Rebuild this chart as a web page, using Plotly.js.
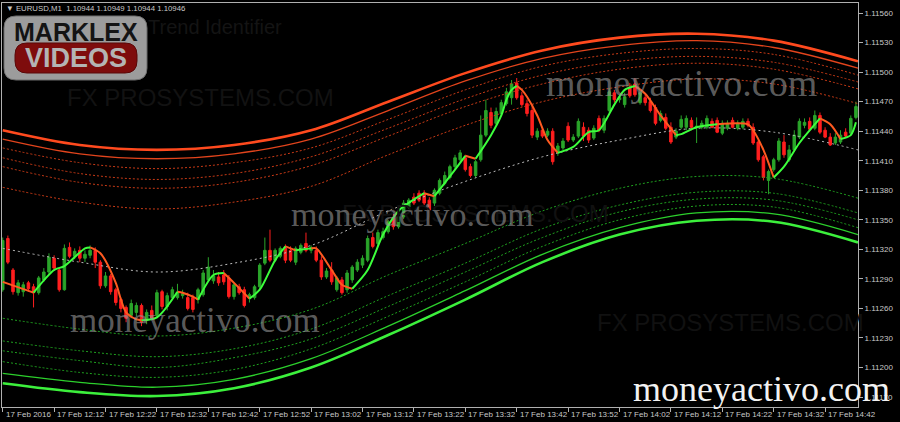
<!DOCTYPE html>
<html><head><meta charset="utf-8">
<script src="https://cdn.plot.ly/plotly-3.0.1.min.js"></script>
<style>html,body{margin:0;padding:0;background:#000;}#chart{width:900px;height:422px;}</style>
</head><body><div id="chart"></div>
<script>
// ---------- DATA (EURUSD M1, 17 Feb 2016, minutes after 12:02) ----------
const candleMinute = Array.from({length:167}, (_, i) => i);
const openPrice = [
1.11279,1.11331,1.11299,1.11276,1.11277,1.11286,1.11282,1.11276,1.11289,1.11297,
1.11311,1.11299,1.11279,1.11322,1.11313,1.11319,1.11311,1.11314,1.11319,1.11307,
1.11283,1.11293,1.11279,1.11269,1.11261,1.11253,1.11256,1.11263,1.11248,1.11258,
1.11253,1.11277,1.11262,1.11271,1.11271,1.11273,1.11271,1.11271,1.11269,1.11274,
1.11289,1.11288,1.11292,1.11294,1.11291,1.11272,1.11282,1.11279,1.11271,1.11271,
1.11282,1.11306,1.11319,1.11309,1.11313,1.11321,1.11319,1.11307,1.11317,1.11326,
1.11319,1.11319,1.11309,1.11292,1.11299,1.11279,1.11289,1.11279,1.11289,1.11299,
1.11304,1.11309,1.11332,1.11326,1.11332,1.11338,1.11352,1.11343,1.11353,1.11363,
1.11373,1.11377,1.11377,1.11370,1.11367,1.11377,1.11387,1.11393,1.11404,1.11411,
1.11413,1.11404,1.11395,1.11411,1.11436,1.11459,1.11448,1.11458,1.11468,1.11474,
1.11489,1.11476,1.11468,1.11461,1.11434,1.11441,1.11436,1.11440,1.11418,1.11423,
1.11445,1.11431,1.11435,1.11444,1.11441,1.11433,1.11453,1.11441,1.11461,1.11479,
1.11472,1.11467,1.11484,1.11488,1.11469,1.11474,1.11470,1.11464,1.11451,1.11454,
1.11444,1.11434,1.11444,1.11444,1.11451,1.11444,1.11444,1.11444,1.11450,1.11451,
1.11438,1.11443,1.11451,1.11443,1.11444,1.11450,1.11444,1.11429,1.11414,1.11390,
1.11401,1.11411,1.11429,1.11411,1.11421,1.11434,1.11446,1.11450,1.11443,1.11456,
1.11441,1.11434,1.11428,1.11429,1.11439,1.11438,1.11454];
const highPrice = [
1.11332,1.11334,1.11301,1.11289,1.11287,1.11288,1.11285,1.11293,1.11301,1.11316,
1.11314,1.11301,1.11325,1.11327,1.11321,1.11323,1.11319,1.11324,1.11322,1.11309,
1.11297,1.11295,1.11281,1.11271,1.11263,1.11269,1.11266,1.11265,1.11259,1.11263,
1.11279,1.11279,1.11276,1.11282,1.11285,1.11279,1.11276,1.11274,1.11281,1.11299,
1.11312,1.11299,1.11297,1.11299,1.11294,1.11286,1.11285,1.11282,1.11276,1.11284,
1.11306,1.11332,1.11340,1.11321,1.11323,1.11325,1.11323,1.11323,1.11326,1.11337,
1.11324,1.11323,1.11313,1.11301,1.11307,1.11293,1.11292,1.11299,1.11304,1.11310,
1.11314,1.11334,1.11337,1.11340,1.11342,1.11350,1.11356,1.11355,1.11370,1.11372,
1.11377,1.11380,1.11380,1.11373,1.11382,1.11392,1.11399,1.11406,1.11416,1.11421,
1.11416,1.11407,1.11411,1.11456,1.11472,1.11464,1.11464,1.11472,1.11484,1.11492,
1.11494,1.11480,1.11472,1.11466,1.11443,1.11444,1.11443,1.11443,1.11428,1.11433,
1.11449,1.11437,1.11453,1.11449,1.11444,1.11446,1.11456,1.11456,1.11484,1.11482,
1.11477,1.11479,1.11489,1.11494,1.11482,1.11477,1.11474,1.11467,1.11461,1.11458,
1.11449,1.11443,1.11456,1.11456,1.11454,1.11454,1.11451,1.11456,1.11453,1.11454,
1.11451,1.11451,1.11454,1.11451,1.11453,1.11453,1.11448,1.11431,1.11416,1.11401,
1.11413,1.11433,1.11436,1.11426,1.11441,1.11453,1.11453,1.11454,1.11461,1.11459,
1.11444,1.11438,1.11438,1.11441,1.11443,1.11456,1.11470];
const lowPrice = [
1.11277,1.11305,1.11274,1.11273,1.11272,1.11277,1.11261,1.11274,1.11287,1.11295,
1.11298,1.11277,1.11278,1.11311,1.11310,1.11307,1.11307,1.11311,1.11301,1.11280,
1.11281,1.11274,1.11263,1.11256,1.11246,1.11250,1.11252,1.11242,1.11244,1.11248,
1.11250,1.11259,1.11258,1.11269,1.11269,1.11270,1.11258,1.11256,1.11265,1.11272,
1.11287,1.11285,1.11283,1.11284,1.11270,1.11269,1.11274,1.11261,1.11266,1.11269,
1.11280,1.11304,1.11307,1.11307,1.11311,1.11306,1.11307,1.11304,1.11315,1.11317,
1.11316,1.11307,1.11289,1.11290,1.11284,1.11277,1.11274,1.11276,1.11286,1.11297,
1.11301,1.11307,1.11321,1.11324,1.11330,1.11336,1.11340,1.11341,1.11351,1.11361,
1.11365,1.11368,1.11365,1.11357,1.11364,1.11375,1.11385,1.11391,1.11401,1.11409,
1.11399,1.11393,1.11393,1.11409,1.11434,1.11443,1.11446,1.11456,1.11466,1.11467,
1.11472,1.11465,1.11455,1.11433,1.11431,1.11433,1.11434,1.11406,1.11415,1.11421,
1.11429,1.11429,1.11433,1.11430,1.11428,1.11431,1.11439,1.11438,1.11459,1.11469,
1.11469,1.11464,1.11474,1.11475,1.11467,1.11466,1.11459,1.11446,1.11449,1.11441,
1.11427,1.11432,1.11442,1.11441,1.11441,1.11428,1.11442,1.11442,1.11443,1.11438,
1.11436,1.11441,1.11443,1.11441,1.11442,1.11444,1.11426,1.11409,1.11390,1.11376,
1.11399,1.11409,1.11413,1.11409,1.11419,1.11432,1.11443,1.11440,1.11441,1.11437,
1.11433,1.11425,1.11426,1.11427,1.11433,1.11436,1.11452];
const closePrice = [
1.11329,1.11307,1.11277,1.11286,1.11284,1.11280,1.11276,1.11291,1.11297,1.11312,
1.11301,1.11279,1.11321,1.11313,1.11318,1.11311,1.11315,1.11319,1.11307,1.11283,
1.11293,1.11277,1.11266,1.11260,1.11250,1.11265,1.11263,1.11246,1.11256,1.11250,
1.11276,1.11262,1.11273,1.11279,1.11276,1.11275,1.11260,1.11259,1.11279,1.11296,
1.11302,1.11293,1.11286,1.11287,1.11272,1.11284,1.11276,1.11263,1.11274,1.11282,
1.11304,1.11319,1.11309,1.11319,1.11321,1.11309,1.11309,1.11321,1.11324,1.11319,
1.11322,1.11309,1.11292,1.11298,1.11287,1.11291,1.11276,1.11296,1.11302,1.11307,
1.11311,1.11331,1.11323,1.11337,1.11338,1.11348,1.11343,1.11353,1.11367,1.11370,
1.11367,1.11370,1.11367,1.11360,1.11380,1.11390,1.11395,1.11404,1.11413,1.11418,
1.11401,1.11395,1.11409,1.11436,1.11461,1.11446,1.11460,1.11469,1.11480,1.11488,
1.11474,1.11467,1.11458,1.11436,1.11440,1.11435,1.11440,1.11409,1.11425,1.11430,
1.11431,1.11434,1.11450,1.11435,1.11431,1.11443,1.11441,1.11453,1.11480,1.11472,
1.11474,1.11475,1.11476,1.11477,1.11479,1.11469,1.11461,1.11448,1.11458,1.11443,
1.11429,1.11440,1.11452,1.11453,1.11444,1.11445,1.11448,1.11453,1.11444,1.11439,
1.11448,1.11448,1.11444,1.11448,1.11450,1.11446,1.11428,1.11411,1.11393,1.11399,
1.11411,1.11430,1.11416,1.11421,1.11436,1.11450,1.11449,1.11442,1.11456,1.11439,
1.11434,1.11426,1.11434,1.11436,1.11435,1.11453,1.11465];

// smoothed trend line (read at its turning points / bends)
const trendMinute = [0,6,10,12,16,17,19,22,23,24,26,27,30,34,35,37,38,41,43,45,48,50,53,55,57,60,61,64,66,68,71,74,77,82,84,88,90,92,95,97,98,99,100,101,102,104,106,108,111,114,116,119,121,123,125,128,131,132,135,139,145,146,148,150,152,155,159,161,163,165,166];
const trendValue = [1.11287,1.11276,1.11299,1.11303,1.11321,1.11322,1.11316,1.11286,1.11269,1.11256,1.11249,1.11248,1.11251,1.11277,1.11276,1.11272,1.11269,1.11294,1.11296,1.11286,1.11270,1.11279,1.11309,1.11323,1.11319,1.11321,1.11321,1.11299,1.11284,1.11280,1.11299,1.11335,1.11359,1.11377,1.11374,1.11401,1.11415,1.11412,1.11436,1.11456,1.11472,1.11482,1.11486,1.11482,1.11475,1.11456,1.11431,1.11418,1.11424,1.11439,1.11441,1.11467,1.11482,1.11486,1.11478,1.11456,1.11436,1.11437,1.11444,1.11447,1.11447,1.11441,1.11421,1.11393,1.11404,1.11428,1.11453,1.11447,1.11432,1.11436,1.11449];

// channel lines (sampled along the chart)
const bandMinute = [0,15,30,45,60,75,90,105,120,135,150,166.4];
const upperOuter = [1.11441,1.11426,1.11421,1.11426,1.11441,1.11470,1.11499,1.11522,1.11535,1.11539,1.11532,1.11511];
const upperInner = [1.11432,1.11417,1.11412,1.11417,1.11432,1.11461,1.11491,1.11514,1.11527,1.11532,1.11525,1.11504];
const upperDot1  = [1.11423,1.11408,1.11402,1.11408,1.11423,1.11452,1.11482,1.11506,1.11519,1.11524,1.11518,1.11497];
const upperDot2  = [1.11413,1.11397,1.11391,1.11397,1.11414,1.11443,1.11473,1.11497,1.11511,1.11516,1.11510,1.11490];
const upperDot3  = [1.11404,1.11388,1.11382,1.11388,1.11405,1.11435,1.11465,1.11488,1.11503,1.11509,1.11503,1.11483];
const upperDot4  = [1.11383,1.11368,1.11361,1.11368,1.11384,1.11416,1.11446,1.11470,1.11485,1.11493,1.11488,1.11468];
const midLine    = [1.11321,1.11307,1.11297,1.11306,1.11324,1.11359,1.11389,1.11414,1.11431,1.11443,1.11439,1.11421];
const lowerDot4  = [1.11250,1.11239,1.11232,1.11240,1.11259,1.11294,1.11326,1.11359,1.11382,1.11394,1.11392,1.11372];
const lowerDot3  = [1.11227,1.11217,1.11211,1.11219,1.11239,1.11273,1.11306,1.11341,1.11365,1.11378,1.11377,1.11357];
const lowerDot2  = [1.11217,1.11207,1.11200,1.11210,1.11229,1.11262,1.11297,1.11332,1.11358,1.11371,1.11370,1.11350];
const lowerDot1  = [1.11206,1.11195,1.11190,1.11198,1.11219,1.11252,1.11287,1.11323,1.11350,1.11364,1.11363,1.11342];
const lowerInner = [1.11194,1.11185,1.11180,1.11188,1.11209,1.11242,1.11278,1.11315,1.11342,1.11357,1.11356,1.11335];
const lowerOuter = [1.11184,1.11175,1.11171,1.11179,1.11200,1.11233,1.11269,1.11307,1.11335,1.11349,1.11348,1.11327];

const timeTickMinute = [0,10,20,30,40,50,60,70,80,90,100,110,120,130,140,150,160];
const timeTickLabel = ["17 Feb 2016","17 Feb 12:12","17 Feb 12:22","17 Feb 12:32","17 Feb 12:42","17 Feb 12:52","17 Feb 13:02","17 Feb 13:12","17 Feb 13:22","17 Feb 13:32","17 Feb 13:42","17 Feb 13:52","17 Feb 14:02","17 Feb 14:12","17 Feb 14:22","17 Feb 14:32","17 Feb 14:42"];
const priceTicks = [1.11170,1.11200,1.11230,1.11260,1.11290,1.11320,1.11350,1.11380,1.11410,1.11440,1.11470,1.11500,1.11530,1.11560];
const headerText = "EURUSD,M1  1.10944 1.10949 1.10944 1.10946";

// ---------- DRAWING ----------
const M = {l:2, r:42, t:3, b:15};
const PW = 900 - M.l - M.r, PH = 422 - M.t - M.b;
const px = x => (x - M.l) / PW;
const py = y => 1 - (y - M.t) / PH;

function band(y, color, width, dash){
  return {type:'scatter', mode:'lines', x:bandMinute, y:y, hoverinfo:'skip',
    line:{color:color, width:width, dash:dash||'solid', shape:'spline', smoothing:1}};
}
const dotR = '#c83a16', dotG = '#1fa01f';
const traces = [
  band(upperDot4, dotR, 1, '2px,2px'),
  band(upperDot3, dotR, 1, '2px,2px'),
  band(upperDot2, dotR, 1, '2px,2px'),
  band(upperDot1, dotR, 1, '2px,2px'),
  band(upperInner, '#e2441c', 1.3),
  band(upperOuter, '#ff4a1e', 2.6),
  band(midLine, '#bdbdbd', 1, '2px,3px'),
  band(lowerDot4, dotG, 1, '2px,2px'),
  band(lowerDot3, dotG, 1, '2px,2px'),
  band(lowerDot2, dotG, 1, '2px,2px'),
  band(lowerDot1, dotG, 1, '2px,2px'),
  band(lowerInner, '#2ccf2c', 1.3),
  band(lowerOuter, '#3cf03c', 2.6),
  {type:'candlestick', x:candleMinute, open:openPrice, high:highPrice, low:lowPrice, close:closePrice,
   increasing:{line:{color:'#2aa52a', width:1}, fillcolor:'#2aa52a'},
   decreasing:{line:{color:'#ff1e1e', width:1}, fillcolor:'#ff1e1e'},
   whiskerwidth:0, hoverinfo:'skip'}
];

// trend line coloured by direction: rising = lime, falling = orange-red
function runs(rising){
  const xs=[], ys=[];
  for(let i=0;i<trendMinute.length-1;i++){
    const up = trendValue[i+1] > trendValue[i];
    if(up !== rising) continue;
    const last = xs.length ? xs[xs.length-1] : undefined;
    if(last !== trendMinute[i]){
      if(xs.length){ xs.push(null); ys.push(null); }
      xs.push(trendMinute[i]); ys.push(trendValue[i]);
    }
    xs.push(trendMinute[i+1]); ys.push(trendValue[i+1]);
  }
  return {xs, ys};
}
const fall = runs(false), rise = runs(true);
traces.push({type:'scatter', mode:'lines', x:fall.xs, y:fall.ys, connectgaps:false, hoverinfo:'skip',
  line:{color:'#ff5a20', width:2, shape:'spline', smoothing:0.8}});
traces.push({type:'scatter', mode:'lines', x:rise.xs, y:rise.ys, connectgaps:false, hoverinfo:'skip',
  line:{color:'#3cff3c', width:2, shape:'spline', smoothing:0.8}});

function rrect(x0,y0,x1,y1,r){
  const X=v=>px(v).toFixed(5), Y=v=>py(v).toFixed(5);
  return `M${X(x0+r)},${Y(y0)} L${X(x1-r)},${Y(y0)} Q${X(x1)},${Y(y0)} ${X(x1)},${Y(y0+r)} L${X(x1)},${Y(y1-r)} Q${X(x1)},${Y(y1)} ${X(x1-r)},${Y(y1)} L${X(x0+r)},${Y(y1)} Q${X(x0)},${Y(y1)} ${X(x0)},${Y(y1-r)} L${X(x0)},${Y(y0+r)} Q${X(x0)},${Y(y0)} ${X(x0+r)},${Y(y0)} Z`;
}
const shapes = [
  {type:'path', xref:'paper', yref:'paper', path:rrect(4,16,147,80,12), fillcolor:'#9c9c9c', line:{color:'#6e6e6e', width:1}, layer:'above'},
  {type:'path', xref:'paper', yref:'paper', path:rrect(15,43,137,73,12), fillcolor:'#7e0c0c', line:{color:'#5a0808', width:1}, layer:'above'}
];
function txt(x,y,text,size,color,family,extra){
  return Object.assign({xref:'paper', yref:'paper', x:px(x), y:py(y), text:text, showarrow:false,
    xanchor:'center', yanchor:'middle', font:{family:family, size:size, color:color}}, extra||{});
}
const serif = 'Liberation Serif, DejaVu Serif, serif';
const axisFont = {family:'Liberation Sans, Arial, sans-serif', size:8, color:'#c8c8c8'};
const annotations = [
  txt(200,97,'FX PROSYSTEMS.COM',24,'#121212','Liberation Sans'),
  txt(475,213,'FX PROSYSTEMS.COM',24,'#111111','Liberation Sans'),
  txt(730,322,'FX PROSYSTEMS.COM',24,'#111111','Liberation Sans'),
  txt(215,27,'Trend Identifier',20,'#141414','Liberation Sans'),
  txt(681,83,'moneyactivo.com',38,'rgba(150,150,150,0.62)',serif),
  txt(412,214,'moneyactivo.com',34,'rgba(150,150,150,0.62)',serif),
  txt(195,320,'moneyactivo.com',35,'rgba(150,150,150,0.62)',serif),
  txt(761,389,'moneyactivo.com',36,'#f2f2f2',serif),
  txt(76,32,'<b>MARKLEX</b>',25,'#141414','Liberation Sans'),
  txt(76,58,'<b>VIDEOS</b>',27,'#b4b4b4','Liberation Sans'),
  txt(4,8,'\u25BC ' + headerText,7.8,'#c8c8c8','Liberation Sans',{xanchor:'left'})
];
// time labels: MT4 prints them starting at the tick, to its right
timeTickMinute.forEach((m,i)=>{
  annotations.push({xref:'x', yref:'paper', x:m, y:py(414), xanchor:'left', yanchor:'middle',
    xshift:1, text:timeTickLabel[i], showarrow:false, font:axisFont});
});

const layout = {
  width:900, height:422, margin:{l:M.l, r:M.r, t:M.t, b:M.b, pad:0},
  paper_bgcolor:'#000', plot_bgcolor:'#000', showlegend:false,
  xaxis:{range:[-0.14,166.4], tickmode:'array', tickvals:timeTickMinute, showticklabels:false,
    ticks:'outside', ticklen:4, tickcolor:'#b0b0b0', showline:true, linecolor:'#b0b0b0', linewidth:1,
    mirror:true, showgrid:false, zeroline:false,
    rangeslider:{visible:false}, fixedrange:true},
  yaxis:{range:[1.111599,1.115702], side:'right', tickmode:'array', tickvals:priceTicks,
    ticktext:priceTicks.map(v=>v.toFixed(5)), ticks:'outside', ticklen:4, tickcolor:'#b0b0b0',
    showline:true, linecolor:'#b0b0b0', linewidth:1, mirror:true, showgrid:false, zeroline:false,
    tickfont:axisFont, fixedrange:true},
  shapes:shapes, annotations:annotations
};
Plotly.newPlot('chart', traces, layout, {staticPlot:true, displayModeBar:false});
</script></body></html>
